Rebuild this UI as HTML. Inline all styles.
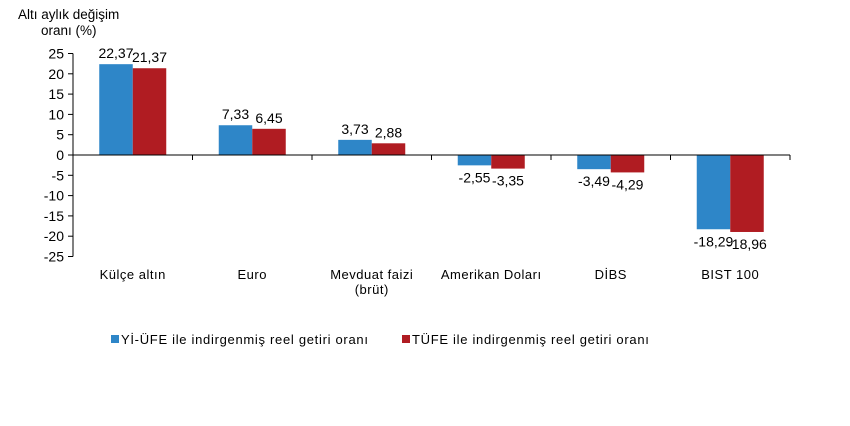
<!DOCTYPE html>
<html><head><meta charset="utf-8"><style>
body{margin:0;background:#fff;font-family:"Liberation Sans",Arial,sans-serif}
svg text{font-family:"Liberation Sans",Arial,sans-serif;fill:#000}
</style></head><body>
<svg id="c" width="850" height="421" xmlns="http://www.w3.org/2000/svg">
<text x="18" y="19" font-size="13.5">Altı aylık değişim</text>
<text x="41" y="35" font-size="13.5">oranı (%)</text>
<g id="g"></g>
<g>
<rect x="111" y="335" width="8" height="8" fill="#2e86c8"/>
<text x="121" y="344" font-size="13" letter-spacing="0.7">Yİ-ÜFE ile indirgenmiş reel getiri oranı</text>
<rect x="402" y="335" width="8" height="8" fill="#b01c22"/>
<text x="412" y="344" font-size="13" letter-spacing="0.7">TÜFE ile indirgenmiş reel getiri oranı</text>
</g>
</svg>
<script>
const categories=[["Külçe altın"],["Euro"],["Mevduat faizi","(brüt)"],["Amerikan Doları"],["DİBS"],["BIST 100"]];
const yiufe=[22.37,7.33,3.73,-2.55,-3.49,-18.29];
const tufe=[21.37,6.45,2.88,-3.35,-4.29,-18.96];
const yTicks=[25,20,15,10,5,0,-5,-10,-15,-20,-25];
const NS="http://www.w3.org/2000/svg",g=document.getElementById('g');
const x0=73,cw=119.5,bw=33.5;
const y=v=>155-v*4.06;
function mk(t,a){const e=document.createElementNS(NS,t);for(const k in a)e.setAttribute(k,a[k]);g.appendChild(e);return e;}
const fmt=v=>v.toFixed(2).replace('.',',');
let e=mk('line',{x1:x0,y1:y(25),x2:x0,y2:y(-25),stroke:'#000'});


yTicks.forEach(t=>{
 let l=mk('line',{x1:x0-5,x2:x0,y1:y(t),y2:y(t),stroke:'#000'});
 
 
 let tx=mk('text',{x:x0-9,y:y(t)+5,'font-size':14,'text-anchor':'end'});tx.textContent=t;
 
 
});
categories.forEach((c,i)=>{
 const cx=x0+cw*(i+0.5);
 [[yiufe[i],'#2e86c8',cx-bw,'yiufe'],[tufe[i],'#b01c22',cx,'tufe']].forEach(([v,col,bx,s])=>{
  let r=mk('rect',{x:bx,width:bw,y:Math.min(y(v),y(0)),height:Math.abs(y(v)-y(0)),fill:col});
  
  
  let ly=v>=0?y(v)-6:y(v)+17;
  let t=mk('text',{x:bx+bw/2,y:ly,'font-size':14,'text-anchor':'middle'});t.textContent=fmt(v);
  
  
 });
 c.forEach((s,j)=>{let t=mk('text',{x:cx,y:279+j*15,'font-size':13,'letter-spacing':'0.5','text-anchor':'middle'});t.textContent=s;
  
  });
});
e=mk('line',{x1:x0,x2:x0+cw*6,y1:y(0),y2:y(0),stroke:'#000'});


for(let i=1;i<=6;i++){let l=mk('line',{x1:x0+cw*i,x2:x0+cw*i,y1:y(0),y2:y(0)+5,stroke:'#000'});
 
 }
</script>
</body></html>
